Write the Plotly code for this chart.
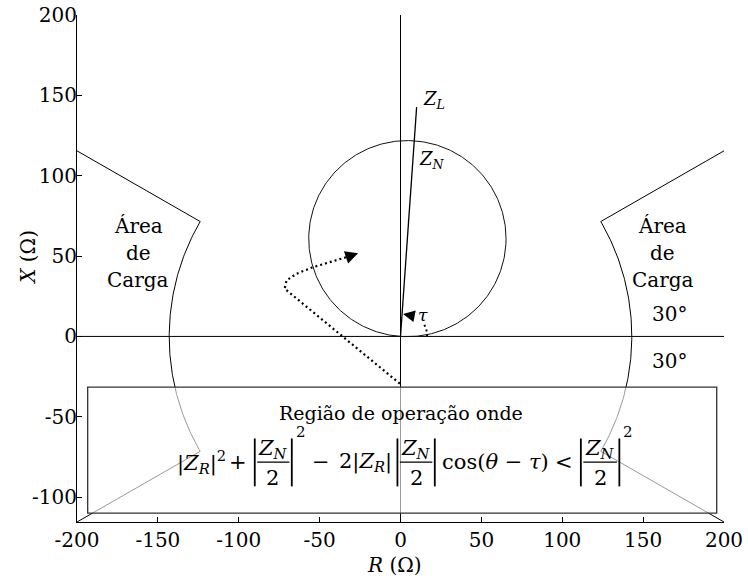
import numpy as np
import plotly.graph_objects as go

# Relay settings (ohms / degrees)
ZL_MAG = 143.0        # line impedance magnitude
ZL_ANG = 86.0         # line impedance angle (tau)
ZN_MAG = 122.0        # mho reach (circle diameter)
LOAD_RADIUS = 143.0   # load encroachment radius
LOAD_ANGLE = 30.0     # half-width of the load wedge

X_RANGE = [-200, 200]
Y_RANGE = [-115.47, 200]
X_TICKS = [-200, -150, -100, -50, 0, 50, 100, 150, 200]
Y_TICKS = [-100, -50, 0, 50, 100, 150, 200]
X_TICK_TEXT = ["-200", "-150", "-100", "-50", "0", "50", "100", "150", "200"]
Y_TICK_TEXT = ["-100", "-50", "0", "50", "100", "150", "200"]

# Impedance trajectory entering the mho zone (R, X)
TRAJ_R = [-0.4, -71.6, -70.5, -64.3, -54.1, -33.4]
TRAJ_X = [-29.4, 29.7, 34.8, 39.0, 43.1, 49.3]
TRAJ_TIP = (-26.2, 51.8)

# Box holding the operating condition
BOX_R = [-193.4, 195.5]
BOX_X = [-110.0, -31.5]

FONT = "DejaVu Serif"
BLACK = "#000000"

fig = go.Figure()


def add_line(x, y, width=1.0, color=BLACK, dash=None):
    fig.add_trace(go.Scatter(
        x=list(x), y=list(y), mode="lines", hoverinfo="skip",
        line=dict(color=color, width=width, dash=dash), showlegend=False))


# Reference axes through the origin
add_line(X_RANGE, [0, 0], 1.0)
add_line([0, 0], Y_RANGE, 1.0)

# Load encroachment wedges (left and right)
far = X_RANGE[1] / np.cos(np.radians(LOAD_ANGLE))
for centre in (0.0, 180.0):
    a0 = np.radians(centre + LOAD_ANGLE)
    a1 = np.radians(centre - LOAD_ANGLE)
    arc = np.linspace(a0, a1, 120)
    rr = np.concatenate([[far], np.full(arc.size, LOAD_RADIUS), [far]])
    aa = np.concatenate([[a0], arc, [a1]])
    add_line(rr * np.cos(aa), rr * np.sin(aa), 1.0)

# Mho circle: diameter Z_N along the line angle
ang = np.radians(ZL_ANG)
cx, cy = ZN_MAG / 2 * np.cos(ang), ZN_MAG / 2 * np.sin(ang)
t = np.linspace(0, 2 * np.pi, 400)
add_line(cx + ZN_MAG / 2 * np.cos(t), cy + ZN_MAG / 2 * np.sin(t), 1.0, "#111111")

# Line impedance Z_L
add_line([0, ZL_MAG * np.cos(ang)], [0, ZL_MAG * np.sin(ang)], 1.3)

# Angle tau (dotted arc from the R axis)
ta = np.radians(np.linspace(0, 32, 20))
add_line(16.5 * np.cos(ta), 16.5 * np.sin(ta), 2.0, dash="2px,3px")

# Impedance trajectory
add_line(TRAJ_R, TRAJ_X, 2.2, dash="2px,3px")

annotations = []
shapes = []


def note(text, x, y, size=20, xanchor="center", yanchor="middle",
         xref="x", yref="y", angle=0):
    annotations.append(dict(
        text=text, x=x, y=y, xref=xref, yref=yref, showarrow=False,
        xanchor=xanchor, yanchor=yanchor, textangle=angle,
        font=dict(family=FONT, size=size, color=BLACK)))


# Arrow heads
annotations.append(dict(
    x=TRAJ_TIP[0], y=TRAJ_TIP[1], ax=TRAJ_R[-1], ay=TRAJ_X[-1],
    xref="x", yref="y", axref="x", ayref="y", text="", showarrow=True,
    arrowhead=2, arrowsize=1.6, arrowwidth=1.6, arrowcolor=BLACK))
annotations.append(dict(
    x=1.6, y=14.0, ax=9.0, ay=12.5,
    xref="x", yref="y", axref="x", ayref="y", text="", showarrow=True,
    arrowhead=2, arrowsize=1.3, arrowwidth=1.8, arrowcolor=BLACK))

# Labels on the impedance plane
note("<i>Z</i><sub><i>L</i></sub>", 12.9, 147, 18, xanchor="left")
note("<i>Z</i><sub><i>N</i></sub>", 9.9, 110, 18, xanchor="left")
note("<i>τ</i>", 14.0, 13.5, 17)
for side in (-1, 1):
    note("Área", side * 162, 69)
    note("de", side * 162, 52)
    note("Carga", side * 162, 35)
note("30°", 166.6, 14)
note("30°", 166.6, -15.2)

# Semi-transparent box for the operating condition
shapes.append(dict(
    type="rect", xref="x", yref="y", x0=BOX_R[0], x1=BOX_R[1],
    y0=BOX_X[0], y1=BOX_X[1], layer="above",
    fillcolor="rgba(255,255,255,0.6)", line=dict(color="#333333", width=1.3)))

note("Região de operação onde", 0, -47.9, 19)

# |Z_R|^2 + |Z_N/2|^2 - 2|Z_R||Z_N/2| cos(theta - tau) < |Z_N/2|^2
EQ = 21
ROW, NUM, DEN, BAR_Y, SUP = -78.4, -70.3, -88.1, (-63.5, -93.3), -59.7
note("|<i>Z</i><sub><i>R</i></sub>|<sup>2</sup>", -139.6, ROW, EQ, xanchor="left")
note("+", -100.3, ROW, EQ)
note("−", -49.0, ROW, EQ)
note("2|<i>Z</i><sub><i>R</i></sub>|", -39.4, ROW, EQ, xanchor="left")
note("cos(<i>θ</i> − <i>τ</i>)", 24.3, ROW, EQ, xanchor="left")
note("<", 101.0, ROW, EQ)

fractions = [
    # left bar, right bar, centre, superscript position
    (-90.1, -67.2, -78.9, -61.4),
    (-1.9, 21.2, 9.7, None),
    (111.5, 135.3, 123.4, 140.6),
]
for left, right, mid, sup in fractions:
    for bx in (left, right):
        shapes.append(dict(type="line", xref="x", yref="y", x0=bx, x1=bx,
                           y0=BAR_Y[0], y1=BAR_Y[1], layer="above",
                           line=dict(color=BLACK, width=1.8)))
    shapes.append(dict(type="line", xref="x", yref="y",
                       x0=left + 1.5, x1=right - 1.5, y0=-78.2, y1=-78.2,
                       layer="above", line=dict(color=BLACK, width=1.4)))
    note("<i>Z</i><sub><i>N</i></sub>", mid, NUM, EQ)
    note("2", mid, DEN, EQ)
    if sup is not None:
        note("2", sup, SUP, 15)

# Axis titles
note("<i>R</i> (Ω)", -4, -0.085, xref="x", yref="paper")
note("<i>X</i> (Ω)", -0.077, 49, xref="paper", yref="y", angle=-90)

axis_common = dict(
    showgrid=False, zeroline=False, showline=True, linecolor=BLACK,
    linewidth=1, ticks="inside", ticklen=5, tickcolor=BLACK, tickwidth=1,
    tickfont=dict(family=FONT, size=20, color=BLACK), mirror=False,
    automargin=False)

fig.update_layout(
    width=748, height=580,
    margin=dict(l=77, r=24, t=15, b=58),
    paper_bgcolor="white", plot_bgcolor="white",
    font=dict(family=FONT, color=BLACK),
    xaxis=dict(range=X_RANGE, tickvals=X_TICKS, ticktext=X_TICK_TEXT,
               **axis_common),
    yaxis=dict(range=Y_RANGE, tickvals=Y_TICKS, ticktext=Y_TICK_TEXT,
               ticklabelstandoff=-5, **axis_common),
    annotations=annotations, shapes=shapes, showlegend=False,
)

fig.write_html("out.html")
